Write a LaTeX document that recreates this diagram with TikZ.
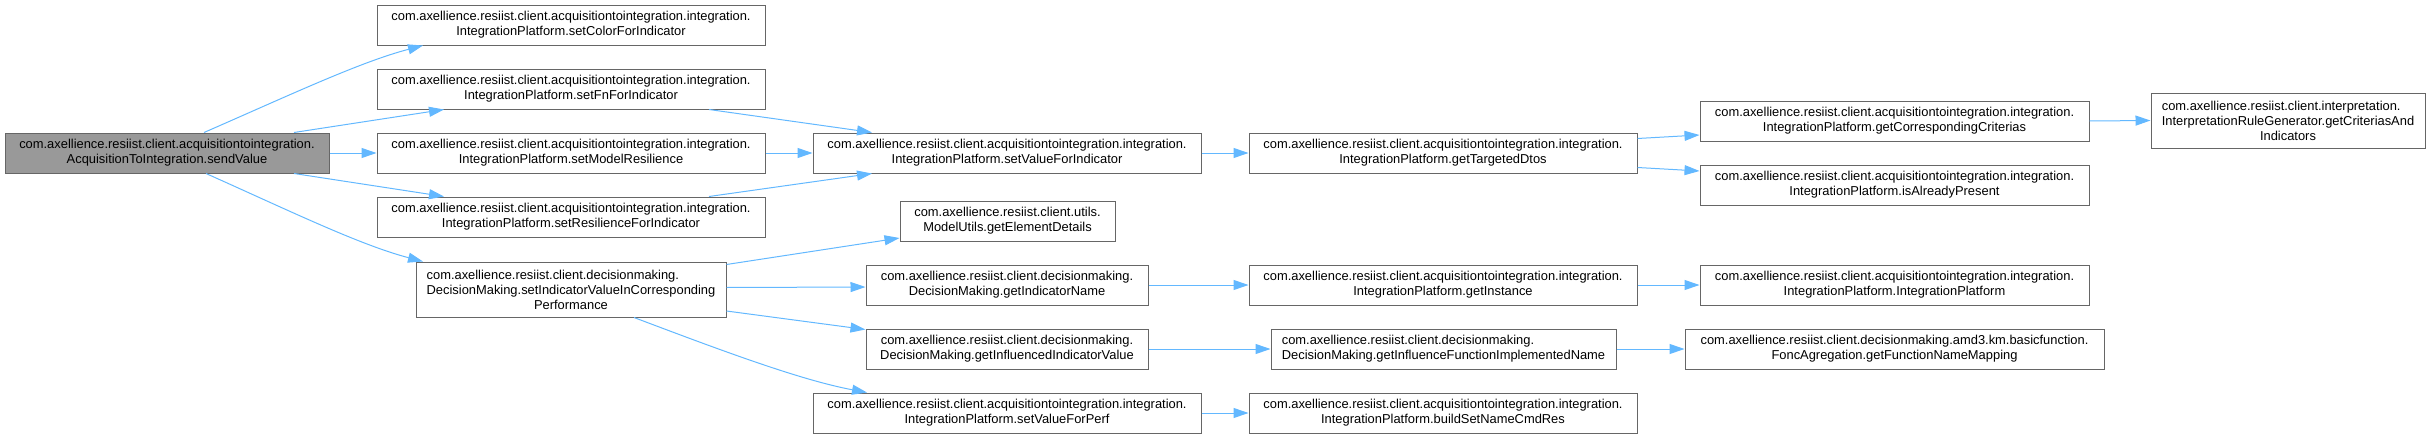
\documentclass[tikz,border=0pt]{standalone}
\usepackage{fontspec}
\setmainfont{Liberation Sans}
\usetikzlibrary{arrows.meta, positioning}
\definecolor{edgeblue}{HTML}{63B8FF}
\definecolor{boxgray}{HTML}{666666}
\definecolor{rootgray}{HTML}{999999}
\newcommand{\lastline}[1]{\hspace*{\fill}#1\hspace*{\fill}}

\begin{document}
\begin{tikzpicture}[x=1pt, y=-1pt,
    fn/.style={draw=boxgray, fill=white, line width=1pt, inner sep=0pt, minimum height=40pt, align=center, font=\fontsize{12.9}{15}\selectfont},
    call/.style={draw=edgeblue, line width=1pt, -{Triangle[length=15pt, width=10pt]}}]
\useasboundingbox (0,0) rectangle (2431,439);

\node[fn, fill=rootgray, minimum width=324pt] (sendValue) at (167,153) {com.axellience.resiist.client.acquisitiontointegration.\\AcquisitionToIntegration.sendValue};

\node[fn, minimum width=388pt] (setColor) at (571,25) {com.axellience.resiist.client.acquisitiontointegration.integration.\\IntegrationPlatform.setColorForIndicator};
\node[fn, minimum width=388pt] (setFn) at (571,89) {com.axellience.resiist.client.acquisitiontointegration.integration.\\IntegrationPlatform.setFnForIndicator};
\node[fn, minimum width=388pt] (setModel) at (571,153) {com.axellience.resiist.client.acquisitiontointegration.integration.\\IntegrationPlatform.setModelResilience};
\node[fn, minimum width=388pt] (setResil) at (571,217) {com.axellience.resiist.client.acquisitiontointegration.integration.\\IntegrationPlatform.setResilienceForIndicator};
\node[fn, align=left, minimum width=310pt, minimum height=55pt] (setIndic) at (571,289.5) {com.axellience.resiist.client.decisionmaking.\\DecisionMaking.setIndicatorValueInCorresponding\\\lastline{Performance}};

\node[fn, minimum width=388pt] (valInd) at (1007,153) {com.axellience.resiist.client.acquisitiontointegration.integration.\\IntegrationPlatform.setValueForIndicator};
\node[fn, minimum width=215pt] (elemDet) at (1007.5,221) {com.axellience.resiist.client.utils.\\ModelUtils.getElementDetails};
\node[fn, minimum width=282pt] (indName) at (1007,285) {com.axellience.resiist.client.decisionmaking.\\DecisionMaking.getIndicatorName};
\node[fn, minimum width=282pt] (infVal) at (1007,349) {com.axellience.resiist.client.decisionmaking.\\DecisionMaking.getInfluencedIndicatorValue};
\node[fn, minimum width=388pt] (valPerf) at (1007,413) {com.axellience.resiist.client.acquisitiontointegration.integration.\\IntegrationPlatform.setValueForPerf};

\node[fn, minimum width=388pt] (targeted) at (1443,153) {com.axellience.resiist.client.acquisitiontointegration.integration.\\IntegrationPlatform.getTargetedDtos};
\node[fn, minimum width=388pt] (instance) at (1443,285) {com.axellience.resiist.client.acquisitiontointegration.integration.\\IntegrationPlatform.getInstance};
\node[fn, align=left, minimum width=345pt] (infFn) at (1443.5,349) {com.axellience.resiist.client.decisionmaking.\\DecisionMaking.getInfluenceFunctionImplementedName};
\node[fn, minimum width=388pt] (cmdRes) at (1443,413) {com.axellience.resiist.client.acquisitiontointegration.integration.\\IntegrationPlatform.buildSetNameCmdRes};

\node[fn, minimum width=389pt] (criterias) at (1894.5,121) {com.axellience.resiist.client.acquisitiontointegration.integration.\\IntegrationPlatform.getCorrespondingCriterias};
\node[fn, minimum width=389pt] (present) at (1894.5,185) {com.axellience.resiist.client.acquisitiontointegration.integration.\\IntegrationPlatform.isAlreadyPresent};
\node[fn, minimum width=389pt] (platform) at (1894.5,285) {com.axellience.resiist.client.acquisitiontointegration.integration.\\IntegrationPlatform.IntegrationPlatform};
\node[fn, minimum width=419pt] (nameMap) at (1894.5,349) {com.axellience.resiist.client.decisionmaking.amd3.km.basicfunction.\\FoncAgregation.getFunctionNameMapping};

\node[fn, align=left, minimum width=274pt, minimum height=55pt] (rules) at (2288,120.5) {com.axellience.resiist.client.interpretation.\\InterpretationRuleGenerator.getCriteriasAnd\\\lastline{Indicators}};

\draw[call] ([xshift=37pt]sendValue.north) .. controls (290,95) and (360,62) .. ([xshift=-148pt]setColor.south);
\draw[call] ([xshift=127pt]sendValue.north) -- ([xshift=-127pt]setFn.south);
\draw[call] (sendValue.east) -- (setModel.west);
\draw[call] ([xshift=127pt]sendValue.south) -- ([xshift=-127pt]setResil.north);
\draw[call] ([xshift=39pt]sendValue.south) .. controls (290,211) and (360,245) .. ([xshift=-148pt]setIndic.north);

\draw[call] ([xshift=138pt]setFn.south) -- ([xshift=-135pt]valInd.north);
\draw[call] (setModel.east) -- (valInd.west);
\draw[call] ([xshift=138pt]setResil.north) -- ([xshift=-135pt]valInd.south);

\draw[call] ([yshift=-3pt]setIndic.north east) -- ([yshift=-17pt]elemDet.west);
\draw[call] ([yshift=2pt]setIndic.east) -- ([yshift=-2pt]indName.west);
\draw[call] ([yshift=-21.5pt]setIndic.east) -- ([yshift=-1pt]infVal.north west);
\draw[call] ([xshift=63pt]setIndic.south) .. controls (720,350) and (800,380) .. ([xshift=-140pt]valPerf.north);

\draw[call] (valInd.east) -- (targeted.west);
\draw[call] (indName.east) -- (instance.west);
\draw[call] (infVal.east) -- (infFn.west);
\draw[call] (valPerf.east) -- (cmdRes.west);

\draw[call] ([yshift=-6pt]targeted.north east) -- ([yshift=-14pt]criterias.west);
\draw[call] ([yshift=6pt]targeted.south east) -- ([yshift=14pt]present.west);
\draw[call] (criterias.east) -- (rules.west);
\draw[call] (instance.east) -- (platform.west);
\draw[call] (infFn.east) -- (nameMap.west);

\end{tikzpicture}
\end{document}
